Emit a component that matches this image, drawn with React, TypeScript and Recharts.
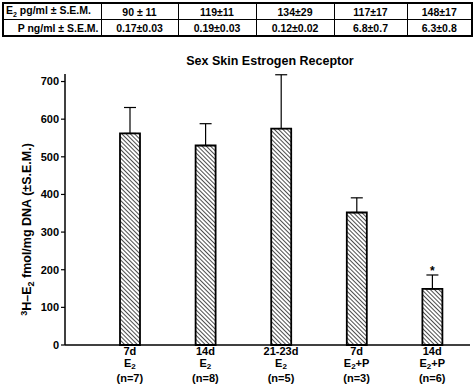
import { BarChart, Bar, XAxis, YAxis, ErrorBar, LabelList } from "recharts";

const durations = ["7d", "14d", "21-23d", "7d", "14d"];
const treatments = ["E2", "E2", "E2", "E2+P", "E2+P"];
const groupSizes = ["(n=7)", "(n=8)", "(n=5)", "(n=3)", "(n=6)"];
const receptor = [562, 530, 575, 352, 149];
const receptorSem = [69, 58, 143, 39, 37];
const significance = ["", "", "", "", "*"];
const yTicks = [0, 100, 200, 300, 400, 500, 600, 700];

const e2Row = ["90 ± 11", "119±11", "134±29", "117±17", "148±17"];
const pRow = ["0.17±0.03", "0.19±0.03", "0.12±0.02", "6.8±0.7", "6.3±0.8"];

const FONT = "'Liberation Sans', Arial, sans-serif";

const data = receptor.map((v, i) => ({
  idx: i,
  value: v,
  err: [0, receptorSem[i]],
  sig: significance[i],
}));

// E + subscript 2, optional "+P"
function Treatment({ x, y, t }: { x: number; y: number; t: string }) {
  const rest = t.slice(2);
  return (
    <text x={x} y={y} textAnchor="middle" fontSize={11} fontWeight="bold" fontFamily={FONT} fill="#000">
      E<tspan fontSize={8} dy={2}>2</tspan>
      <tspan dy={-2}>{rest}</tspan>
    </text>
  );
}

function GroupTick(props: any) {
  const { x, y, payload } = props;
  const i = payload.value;
  // y sits a couple of px under the axis line
  return (
    <g>
      <text x={x} y={y + 8} textAnchor="middle" fontSize={11} fontWeight="bold" fontFamily={FONT} fill="#000">
        {durations[i]}
      </text>
      <Treatment x={x} y={y + 20} t={treatments[i]} />
      <text x={x} y={y + 35} textAnchor="middle" fontSize={11} fontWeight="bold" fontFamily={FONT} fill="#000">
        {groupSizes[i]}
      </text>
    </g>
  );
}

function YLabel(props: any) {
  const { viewBox } = props;
  const cy = viewBox.y + viewBox.height / 2 + 20;
  const cx = 31;
  return (
    <text
      x={cx}
      y={cy}
      transform={`rotate(-90 ${cx} ${cy})`}
      textAnchor="middle"
      fontSize={12.5}
      fontWeight="bold"
      fontFamily={FONT}
      fill="#000"
    >
      <tspan fontSize={9} dy={-4}>3</tspan>
      <tspan dy={4}>H–E</tspan>
      <tspan fontSize={9} dy={3}>2</tspan>
      <tspan dy={-3}> fmol/mg DNA (±S.E.M.)</tspan>
    </text>
  );
}

function SigMark(props: any) {
  const { x, y, width, value } = props;
  if (!value) return null;
  return (
    <text x={x + width / 2} y={y - 14} textAnchor="middle" fontSize={12} fontWeight="bold" fontFamily={FONT} fill="#000">
      {value}
    </text>
  );
}

const cell: React.CSSProperties = {
  border: "1.5px solid #000",
  padding: 0,
  height: 15,
  textAlign: "center",
  fontSize: 10.5,
  fontWeight: "bold",
  fontFamily: FONT,
  whiteSpace: "nowrap",
};

const colWidths = [98, 77, 78, 78, 73, 65];

export default function App() {
  return (
    <div style={{ position: "absolute", left: 0, top: 0, width: 473, height: 387, background: "#fff", overflow: "hidden" }}>
      <table
        style={{
          position: "absolute",
          left: 2,
          top: 2,
          borderCollapse: "collapse",
          tableLayout: "fixed",
          width: 469,
          border: "2px solid #000",
        }}
      >
        <colgroup>
          {colWidths.map((w, i) => (
            <col key={i} style={{ width: w }} />
          ))}
        </colgroup>
        <tbody>
          <tr>
            <td style={{ ...cell, textAlign: "left", paddingLeft: 2 }}>
              E<sub style={{ fontSize: 7 }}>2</sub> pg/ml ± S.E.M.
            </td>
            {e2Row.map((s, i) => (
              <td key={i} style={cell}>{s}</td>
            ))}
          </tr>
          <tr>
            <td style={{ ...cell, textAlign: "right", paddingRight: 2 }}>P ng/ml ± S.E.M.</td>
            {pRow.map((s, i) => (
              <td key={i} style={cell}>{s}</td>
            ))}
          </tr>
        </tbody>
      </table>
      <div
        style={{
          position: "absolute",
          left: 170,
          width: 200,
          top: 54,
          textAlign: "center",
          fontSize: 12.5,
          fontWeight: "bold",
          fontFamily: FONT,
          whiteSpace: "nowrap",
        }}
      >
        Sex Skin Estrogen Receptor
      </div>
      <div style={{ position: "absolute", left: 0, top: 0 }}>
        <BarChart width={473} height={387} data={data} margin={{ top: 74, right: 3, bottom: 2, left: 0 }}>
          <defs>
            <pattern id="hatch" width="3" height="3" patternUnits="userSpaceOnUse" patternTransform="rotate(-45)">
              <rect width="3" height="3" fill="#fff" />
              <line x1="0" y1="0" x2="0" y2="3" stroke="#000" strokeWidth="1.4" />
            </pattern>
          </defs>
          <XAxis
            dataKey="idx"
            tick={<GroupTick />}
            tickLine={false}
            tickSize={0}
            tickMargin={2}
            axisLine={{ stroke: "#000", strokeWidth: 1.5 }}
            height={40}
            interval={0}
            padding={{ left: 27, right: 0 }}
          />
          <YAxis
            domain={[0, 720]}
            ticks={yTicks}
            width={65}
            tick={{ fill: "#000", fontSize: 11, fontWeight: "bold", fontFamily: FONT }}
            tickLine={{ stroke: "#000", strokeWidth: 1.2 }}
            tickSize={4}
            axisLine={{ stroke: "#000", strokeWidth: 1.5 }}
            label={<YLabel />}
          />
          <Bar dataKey="value" barSize={20} fill="url(#hatch)" stroke="#000" strokeWidth={1.8} isAnimationActive={false}>
            <ErrorBar dataKey="err" width={6} stroke="#000" strokeWidth={1.2} direction="y" />
            <LabelList dataKey="sig" content={<SigMark />} />
          </Bar>
        </BarChart>
      </div>
    </div>
  );
}
